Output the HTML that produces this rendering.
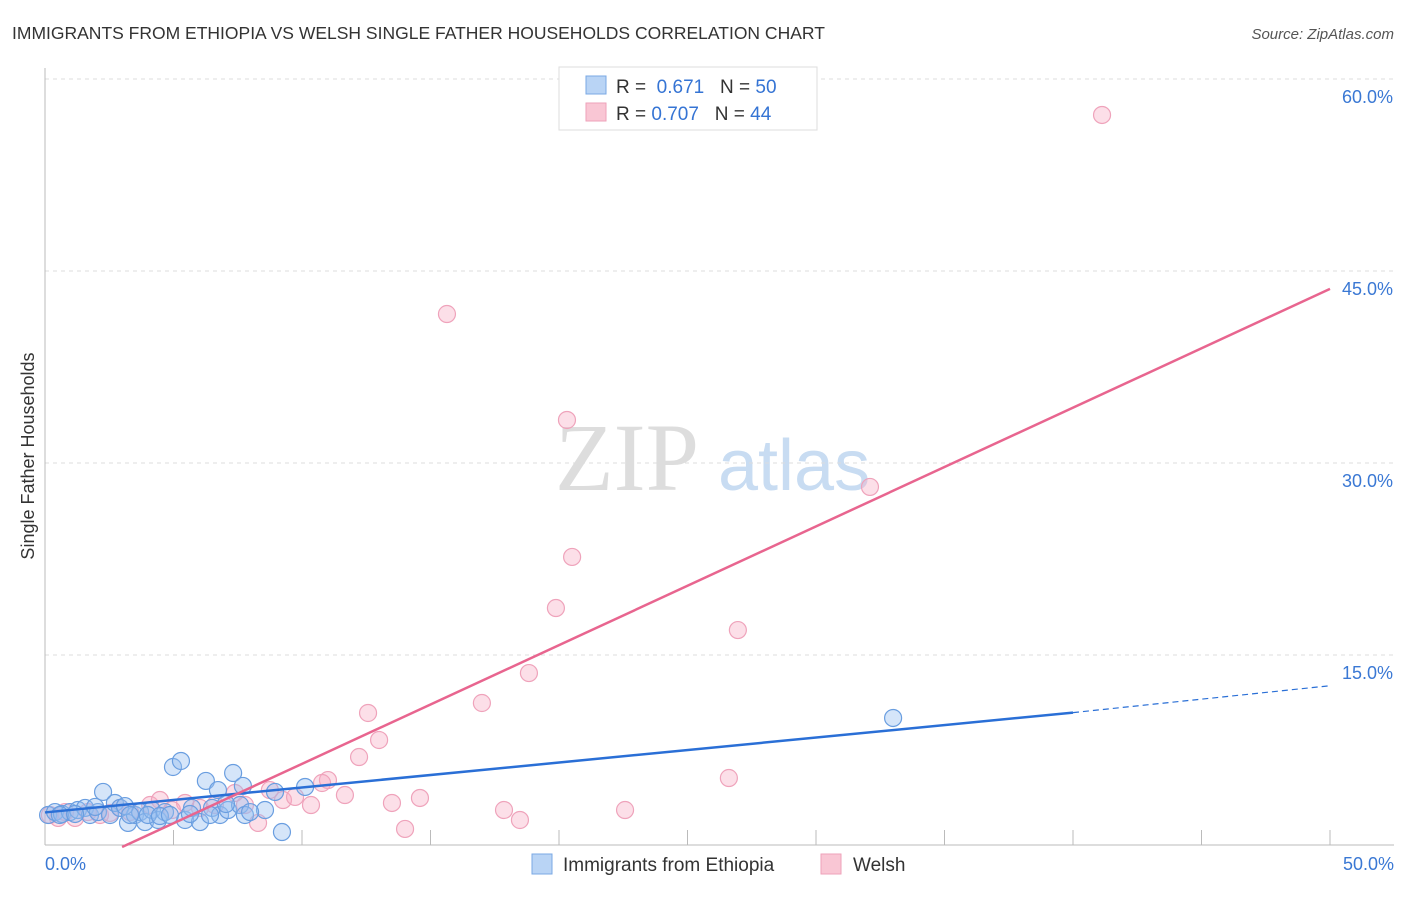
<!DOCTYPE html>
<html><head><meta charset="utf-8"><style>
body{margin:0;background:#fff;font-family:"Liberation Sans",sans-serif}
svg text{font-family:"Liberation Sans",sans-serif}
</style></head><body>
<svg id="chart" width="1406" height="892">
<text x="12" y="39" font-size="17.5" fill="#333">IMMIGRANTS FROM ETHIOPIA VS WELSH SINGLE FATHER HOUSEHOLDS CORRELATION CHART</text>
<text x="1394" y="39" font-size="15" fill="#555" font-style="italic" text-anchor="end">Source: ZipAtlas.com</text>
<text x="555" y="490" font-size="96" fill="#ddd" font-family="Liberation Serif" style="font-family:'Liberation Serif',serif">ZIP</text>
<text x="718" y="490" font-size="72" fill="#c8dcf2">atlas</text>
<g id="grid"></g><g id="axes"></g><g id="pts"></g><g id="lines"></g>
<text transform="translate(34,456) rotate(-90)" font-size="18" fill="#333" text-anchor="middle">Single Father Households</text>
<g>
<rect x="559" y="67" width="258" height="63" fill="#fff" stroke="#ddd"/>
<rect x="586" y="76" width="20" height="18" fill="#b9d4f5" stroke="#7aa8e4"/>
<text x="616" y="93" font-size="19" fill="#333">R = <tspan fill="#3574d4">&#160;0.671</tspan>&#160;&#160;&#160;N = <tspan fill="#3574d4">50</tspan></text>
<rect x="586" y="103" width="20" height="18" fill="#f9c6d4" stroke="#eea2ba"/>
<text x="616" y="120" font-size="19" fill="#333">R = <tspan fill="#3574d4">0.707</tspan>&#160;&#160;&#160;N = <tspan fill="#3574d4">44</tspan></text>
</g>
<g>
<rect x="532" y="854" width="20" height="20" fill="#b9d4f5" stroke="#7aa8e4"/>
<text x="563" y="871" font-size="19" fill="#333">Immigrants from Ethiopia</text>
<rect x="821" y="854" width="20" height="20" fill="#f9c6d4" stroke="#eea2ba"/>
<text x="853" y="871" font-size="19" fill="#333">Welsh</text>
</g>
</svg>
<script>
const blueX=[0.12,0.39,0.66,0.97,1.28,1.56,1.75,2.06,2.26,2.53,2.72,2.92,3.23,3.5,3.7,3.89,4.16,4.4,4.67,4.98,5.29,5.45,5.72,6.03,6.26,6.5,6.81,6.73,7.12,7.32,7.59,7.7,7.78,8.56,8.95,9.22,10.12,33.0,0.58,1.17,1.95,3.11,4.0,4.47,5.64,6.42,7.04,7.98,3.31,4.86];
const blueY=[2.5,2.73,2.58,2.73,2.89,3.05,2.5,2.73,4.3,2.5,3.44,3.05,1.88,2.5,2.73,1.95,2.89,2.11,2.73,6.25,6.72,2.11,3.05,1.95,5.16,3.05,2.5,4.45,2.89,5.78,3.28,4.77,2.5,2.89,4.3,1.17,4.69,10.08,2.5,2.58,3.13,3.2,2.5,2.42,2.58,2.5,3.36,2.73,2.5,2.5];
const pinkX=[41.13,15.64,20.31,32.1,20.51,19.88,26.96,18.83,17.0,12.57,13.0,12.22,11.01,10.78,11.67,14.59,13.5,10.35,9.26,8.75,9.73,8.29,14.01,17.86,18.48,22.57,26.61,0.19,0.51,0.78,1.17,1.67,2.14,2.92,4.09,4.47,5.45,6.03,6.61,7.39,7.78,4.94,3.31,2.53];
const pinkY=[57.19,41.64,33.36,28.13,22.66,18.67,16.95,13.59,11.25,10.47,8.36,7.03,5.23,5.0,4.06,3.83,3.44,3.28,3.67,4.45,3.91,1.88,1.41,2.89,2.11,2.89,5.39,2.5,2.27,2.73,2.27,2.73,2.5,3.05,3.28,3.67,3.44,3.05,3.28,4.22,3.28,2.89,2.73,2.66];
const yTicks=[15,30,45,60];
const yTickLabels=["15.0%","30.0%","45.0%","60.0%"];
const xTicks=[0,5,10,15,20,25,30,35,40,45,50];
const blueTrend=[[0,2.7],[40,10.5],[50,12.6]];
const pinkTrend=[[3.0,0],[50,43.6]];
const NS='http://www.w3.org/2000/svg';
const X=v=>45+v*25.7, Y=v=>847-v*12.8;
function mk(t,a,p){const e=document.createElementNS(NS,t);for(const k in a)e.setAttribute(k,a[k]);document.getElementById(p).appendChild(e);return e;}
yTicks.forEach((t,i)=>{
 const g=mk('line',{x1:45,x2:1394,y1:Y(t),y2:Y(t),stroke:'#ddd','stroke-dasharray':'4,4'},'grid');
 
 
 const l=mk('text',{x:1393,y:Y(t)+24,'font-size':18,fill:'#3a78d4','text-anchor':'end'},'grid');
 l.textContent=yTickLabels[i];
 
 
});
const ax=mk('line',{x1:45,x2:1394,y1:845,y2:845,stroke:'#bbb'},'axes');


const ay=mk('line',{x1:45,x2:45,y1:68,y2:845,stroke:'#bbb'},'axes');


xTicks.forEach(t=>{
 const k=mk('line',{x1:X(t),x2:X(t),y1:830,y2:845,stroke:'#bbb'},'axes');
 
 
});
const x0=mk('text',{x:45,y:870,'font-size':18,fill:'#3a78d4'},'axes');x0.textContent='0.0%';


const x1=mk('text',{x:1394,y:870,'font-size':18,fill:'#3a78d4','text-anchor':'end'},'axes');x1.textContent='50.0%';


pinkX.forEach((v,i)=>{
 const c=mk('circle',{cx:X(v),cy:Y(pinkY[i]),r:8.5,fill:'rgba(246,170,194,0.38)',stroke:'#efa3bb','stroke-width':1.2},'pts');
 
 
});
blueX.forEach((v,i)=>{
 const c=mk('circle',{cx:X(v),cy:Y(blueY[i]),r:8.5,fill:'rgba(150,190,240,0.4)',stroke:'#6a9ee0','stroke-width':1.2},'pts');
 
 
});
const b1=mk('line',{x1:X(blueTrend[0][0]),y1:Y(blueTrend[0][1]),x2:X(blueTrend[1][0]),y2:Y(blueTrend[1][1]),stroke:'#2a6fd6','stroke-width':2.5},'lines');


const b2=mk('line',{x1:X(blueTrend[1][0]),y1:Y(blueTrend[1][1]),x2:X(blueTrend[2][0]),y2:Y(blueTrend[2][1]),stroke:'#2a6fd6','stroke-width':1.2,'stroke-dasharray':'6,4'},'lines');


const p1=mk('line',{x1:X(pinkTrend[0][0]),y1:Y(pinkTrend[0][1]),x2:X(pinkTrend[1][0]),y2:Y(pinkTrend[1][1]),stroke:'#e8658f','stroke-width':2.5},'lines');


</script>
</body></html>
